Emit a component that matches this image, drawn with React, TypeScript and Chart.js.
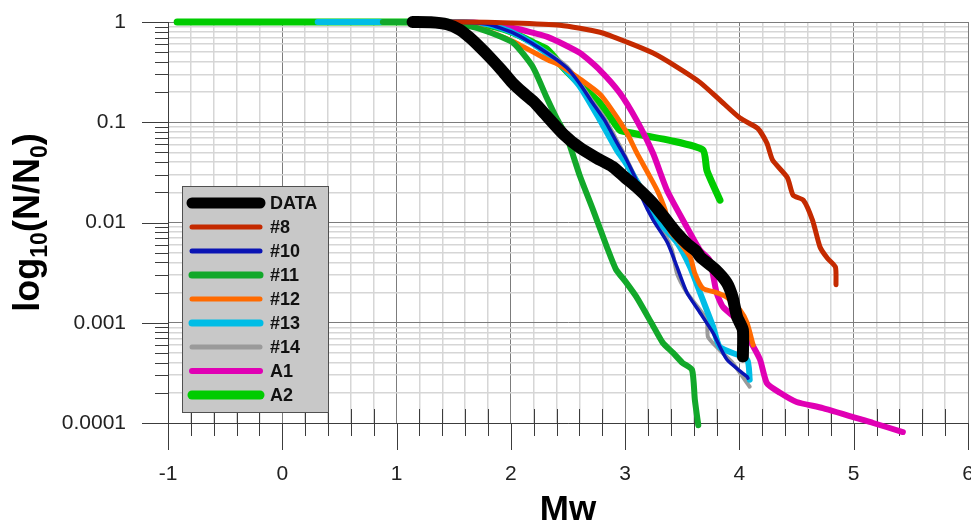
import React, { useEffect, useRef } from 'react';
import { Chart, registerables } from 'chart.js';

Chart.register(...registerables);

// ---------- data ----------
const seriesNames = ['DATA', '#8', '#10', '#11', '#12', '#13', '#14', 'A1', 'A2'];

const dataMw = [1.14, 1.3, 1.44, 1.55, 1.64, 1.73, 1.82, 1.92, 2.01, 2.1, 2.2, 2.3, 2.46, 2.6, 2.75, 2.89, 3.0, 3.1, 3.24, 3.35, 3.45, 3.55, 3.62, 3.66, 3.79, 3.89, 3.94, 3.98, 4.03, 4.03];
const dataN = [1, 0.995, 0.95, 0.84, 0.7, 0.56, 0.44, 0.33, 0.25, 0.2, 0.16, 0.12, 0.076, 0.056, 0.044, 0.036, 0.028, 0.0225, 0.0157, 0.011, 0.0079, 0.006, 0.0052, 0.0045, 0.0034, 0.0025, 0.0018, 0.00114, 0.00085, 0.00046];

const s8Mw = [1.15, 1.58, 2.0, 2.43, 2.78, 3.016, 3.244, 3.454, 3.655, 3.83, 4.005, 4.16, 4.24, 4.29, 4.42, 4.47, 4.56, 4.64, 4.705, 4.77, 4.84, 4.845];
const s8N = [1, 1, 0.98, 0.93, 0.79, 0.63, 0.49, 0.355, 0.25, 0.166, 0.11, 0.087, 0.062, 0.042, 0.028, 0.0187, 0.0167, 0.0105, 0.0057, 0.0044, 0.0036, 0.0024];

const s10Mw = [1.2, 1.6, 1.8, 2.02, 2.25, 2.49, 2.6, 2.7, 2.82, 2.93, 3.0, 3.1, 3.156, 3.244, 3.37, 3.454, 3.54, 3.655, 3.77, 3.89, 4.066, 4.075];
const s10N = [1, 0.99, 0.95, 0.78, 0.55, 0.35, 0.245, 0.165, 0.105, 0.062, 0.045, 0.026, 0.0168, 0.0106, 0.0063, 0.0036, 0.002, 0.00126, 0.00079, 0.00043, 0.00029, 0.00028];

const s11Mw = [0.88, 1.4, 1.6, 1.8, 2.02, 2.19, 2.31, 2.4, 2.49, 2.6, 2.72, 2.84, 2.92, 3.0, 3.1, 3.24, 3.33, 3.42, 3.5, 3.585, 3.61, 3.64];
const s11N = [1, 0.99, 0.93, 0.8, 0.62, 0.36, 0.18, 0.11, 0.071, 0.03, 0.0133, 0.0057, 0.0034, 0.0026, 0.0018, 0.00095, 0.00063, 0.0005, 0.0004, 0.00034, 0.00017, 0.000095];

const s12Mw = [1.2, 1.64, 2.02, 2.32, 2.43, 2.605, 2.78, 2.89, 3.016, 3.1, 3.2, 3.28, 3.35, 3.39, 3.48, 3.57, 3.61, 3.68, 3.8, 3.89, 4.005, 4.066, 4.12];
const s12N = [1, 0.93, 0.64, 0.42, 0.37, 0.27, 0.19, 0.13, 0.078, 0.05, 0.031, 0.021, 0.0133, 0.0084, 0.0063, 0.0045, 0.0031, 0.0022, 0.002, 0.0018, 0.00134, 0.001, 0.0006];

const s13Mw = [0.31, 1.2, 1.6, 1.8, 2.0, 2.2, 2.43, 2.6, 2.78, 2.93, 3.0, 3.1, 3.2, 3.306, 3.454, 3.568, 3.655, 3.77, 3.83, 4.066, 4.09];
const s13N = [1, 1, 0.99, 0.95, 0.8, 0.6, 0.38, 0.23, 0.105, 0.052, 0.04, 0.026, 0.016, 0.0099, 0.0063, 0.0036, 0.002, 0.00091, 0.00057, 0.00043, 0.00027];

const s14Mw = [1.0, 1.5, 1.8, 2.02, 2.25, 2.49, 2.6, 2.7, 2.82, 2.93, 3.0, 3.1, 3.22, 3.29, 3.41, 3.454, 3.54, 3.655, 3.716, 3.725, 3.83, 3.94, 4.09];
const s14N = [1, 1, 0.96, 0.78, 0.56, 0.36, 0.25, 0.17, 0.11, 0.065, 0.046, 0.027, 0.0168, 0.0106, 0.0053, 0.0031, 0.002, 0.00134, 0.00107, 0.00072, 0.00053, 0.0004, 0.00023];

const a1Mw = [1.2, 1.67, 2.02, 2.32, 2.605, 2.78, 2.955, 3.1, 3.244, 3.366, 3.54, 3.655, 3.74, 3.8, 3.856, 3.98, 4.09, 4.18, 4.24, 4.355, 4.5, 4.73, 5.17, 5.43];
const a1N = [1, 0.99, 0.87, 0.71, 0.49, 0.33, 0.195, 0.105, 0.049, 0.021, 0.009, 0.0053, 0.0042, 0.002, 0.00144, 0.00107, 0.00067, 0.00043, 0.00025, 0.0002, 0.000162, 0.000141, 0.0001, 0.0000813];

const a2Mw = [-0.92, 1.2, 1.6, 1.85, 2.02, 2.2, 2.32, 2.45, 2.63, 2.78, 2.93, 2.955, 3.156, 3.39, 3.68, 3.716, 3.83];
const a2N = [1, 1, 0.98, 0.9, 0.78, 0.62, 0.53, 0.36, 0.224, 0.155, 0.09, 0.083, 0.074, 0.066, 0.053, 0.033, 0.0167];

const seriesMw = [dataMw, s8Mw, s10Mw, s11Mw, s12Mw, s13Mw, s14Mw, a1Mw, a2Mw];
const seriesN = [dataN, s8N, s10N, s11N, s12N, s13N, s14N, a1N, a2N];

// axis ticks
const xMin = -1;
const xMax = 6;
const xMajorTicks = [-1, 0, 1, 2, 3, 4, 5, 6];
const xMinorPerUnit = 5;
const yMajorTicks = [1, 0.1, 0.01, 0.001, 0.0001];
const yTickLabels = ['1', '0.1', '0.01', '0.001', '0.0001'];

// ---------- styles ----------
const seriesColors = ['#000000', '#c42a00', '#0a14b4', '#12a82a', '#ff6a00', '#00bde6', '#9a9a9a', '#e000b4', '#00cc00'];
const seriesWidths = [12, 5, 3.5, 6, 5, 6, 4, 6, 7];
const legendWidths = [11, 5, 5, 7, 5, 7, 5, 6, 9];
const FONT = '"Liberation Sans", Arial, Helvetica, sans-serif';

function buildXTicks(): number[] {
  const out: number[] = [];
  for (let i = 0; i < xMajorTicks.length - 1; i++) {
    for (let k = 0; k < xMinorPerUnit; k++) out.push(xMajorTicks[i] + k / xMinorPerUnit);
  }
  out.push(xMajorTicks[xMajorTicks.length - 1]);
  return out;
}
function buildYTicks(): number[] {
  const out: number[] = [];
  const decs = [...yMajorTicks].sort((a, b) => a - b);
  for (let i = 0; i < decs.length - 1; i++) {
    for (let m = 1; m <= 9; m++) out.push(m * decs[i]);
  }
  out.push(decs[decs.length - 1]);
  return out;
}
const xTickValues = buildXTicks();
const yTickValues = buildYTicks();

const isIntTick = (v: number) => Math.abs(v - Math.round(v)) < 1e-6;
const isDecade = (v: number) => {
  const l = Math.log10(v);
  return Math.abs(l - Math.round(l)) < 1e-6;
};

const axesPlugin = {
  id: 'customAxes',
  beforeDatasetsDraw(chart: any) {
    const { ctx, chartArea, scales } = chart;
    const x = scales.x;
    const y = scales.y;
    ctx.save();
    ctx.strokeStyle = '#3c3c3c';
    ctx.lineWidth = 1;
    ctx.beginPath();
    const b = chartArea.bottom;
    xTickValues.forEach((v) => {
      const px = Math.round(x.getPixelForValue(v)) + 0.5;
      if (isIntTick(v)) {
        ctx.moveTo(px, b);
        ctx.lineTo(px, b + 27);
      } else {
        ctx.moveTo(px, b - 14);
        ctx.lineTo(px, b + 13);
      }
    });
    const l = chartArea.left;
    yTickValues.forEach((v) => {
      const py = Math.round(y.getPixelForValue(v)) + 0.5;
      if (isDecade(v)) {
        ctx.moveTo(l - 26, py);
        ctx.lineTo(l, py);
      } else {
        ctx.moveTo(l - 13, py);
        ctx.lineTo(l, py);
      }
    });
    ctx.stroke();
    ctx.restore();
  },
  afterDraw(chart: any) {
    const { ctx, chartArea } = chart;
    ctx.save();
    // x title
    ctx.fillStyle = '#000';
    ctx.font = `bold 35px ${FONT}`;
    ctx.textAlign = 'center';
    ctx.textBaseline = 'alphabetic';
    ctx.fillText('Mw', (chartArea.left + chartArea.right) / 2, 520);

    // y title with subscripts
    const parts = [
      { t: 'log', sub: false },
      { t: '10', sub: true },
      { t: '(N/N', sub: false },
      { t: '0', sub: true },
      { t: ')', sub: false },
    ];
    const mainFont = `bold 36px ${FONT}`;
    const subFont = `bold 23px ${FONT}`;
    let total = 0;
    const widths = parts.map((p) => {
      ctx.font = p.sub ? subFont : mainFont;
      const w = ctx.measureText(p.t).width;
      total += w;
      return w;
    });
    const cy = (chartArea.top + chartArea.bottom) / 2;
    ctx.translate(39, cy + total / 2);
    ctx.rotate(-Math.PI / 2);
    ctx.textAlign = 'left';
    let cx = 0;
    parts.forEach((p, i) => {
      ctx.font = p.sub ? subFont : mainFont;
      ctx.fillText(p.t, cx, p.sub ? 8 : 0);
      cx += widths[i];
    });
    ctx.restore();

    // legend box
    ctx.save();
    const bx = 182.5, by = 186.5, bw = 146, bh = 226;
    ctx.fillStyle = '#c8c8c8';
    ctx.strokeStyle = '#505050';
    ctx.lineWidth = 1;
    ctx.fillRect(bx, by, bw, bh);
    ctx.strokeRect(bx, by, bw, bh);
    ctx.lineCap = 'round';
    chart.data.datasets.forEach((ds: any, i: number) => {
      const yy = 203 + i * 24;
      ctx.strokeStyle = ds.borderColor;
      ctx.lineWidth = legendWidths[i];
      ctx.beginPath();
      ctx.moveTo(192, yy);
      ctx.lineTo(260, yy);
      ctx.stroke();
      ctx.fillStyle = '#111';
      ctx.font = `bold 18px ${FONT}`;
      ctx.textAlign = 'left';
      ctx.textBaseline = 'middle';
      ctx.fillText(ds.label, 270, yy + 1);
    });
    ctx.restore();
  },
};

export default function App() {
  const ref = useRef<HTMLCanvasElement | null>(null);
  useEffect(() => {
    const canvas = ref.current;
    if (!canvas) return;
    const datasets = seriesNames.map((name, i) => ({
      label: name,
      data: seriesMw[i].map((mx, j) => ({ x: mx, y: seriesN[i][j] })),
      borderColor: seriesColors[i],
      backgroundColor: seriesColors[i],
      borderWidth: seriesWidths[i],
      pointRadius: 0,
      pointHoverRadius: 0,
      tension: 0.2,
      fill: false,
      clip: false as any,
      borderCapStyle: 'round' as const,
      borderJoinStyle: 'round' as const,
    }));
    const chart = new Chart(canvas, {
      type: 'line',
      data: { datasets },
      options: {
        responsive: false,
        maintainAspectRatio: false,
        animation: false,
        events: [],
        layout: { padding: { top: 22, right: 3, left: 0, bottom: 0 } },
        plugins: { legend: { display: false }, tooltip: { enabled: false }, title: { display: false } },
        scales: {
          x: {
            type: 'linear',
            min: xMin,
            max: xMax,
            afterBuildTicks: (s: any) => {
              s.ticks = xTickValues.map((v) => ({ value: v }));
            },
            afterFit: (s: any) => {
              s.height = 98;
              s.paddingLeft = 0;
              s.paddingRight = 0;
            },
            grid: {
              drawTicks: false,
              color: (c: any) => (c.tick && isIntTick(c.tick.value) ? '#7c7c7c' : '#d6d6d6'),
              lineWidth: (c: any) => (c.tick && isIntTick(c.tick.value) ? 1 : 1.5),
            },
            border: { display: true, color: '#3c3c3c', width: 1 },
            ticks: {
              autoSkip: false,
              maxRotation: 0,
              minRotation: 0,
              padding: 39,
              color: '#222',
              font: { family: FONT, size: 21 },
              callback: (v: any) => (isIntTick(Number(v)) ? String(Math.round(Number(v))) : ''),
            },
          },
          y: {
            type: 'logarithmic',
            min: 0.0001,
            max: 1,
            afterBuildTicks: (s: any) => {
              s.ticks = yTickValues.map((v) => ({ value: v, major: isDecade(v) }));
            },
            afterFit: (s: any) => {
              s.width = 168;
              s.paddingTop = 0;
              s.paddingBottom = 0;
            },
            grid: {
              drawTicks: false,
              color: (c: any) => (c.tick && isDecade(c.tick.value) ? '#7c7c7c' : '#d6d6d6'),
              lineWidth: (c: any) => (c.tick && isDecade(c.tick.value) ? 1 : 1.5),
            },
            border: { display: true, color: '#3c3c3c', width: 1 },
            ticks: {
              autoSkip: false,
              padding: 42,
              color: '#222',
              font: { family: FONT, size: 21 },
              callback: (v: any) => {
                const n = Number(v);
                const idx = yMajorTicks.findIndex((m) => Math.abs(m - n) / m < 1e-6);
                return idx >= 0 ? yTickLabels[idx] : '';
              },
            },
          },
        },
      } as any,
      plugins: [axesPlugin],
    });
    return () => chart.destroy();
  }, []);
  return (
    <div style={{ position: 'absolute', left: 0, top: 0, width: 971, height: 521, background: '#fff' }}>
      <canvas ref={ref} width={971} height={521} style={{ display: 'block', width: 971, height: 521 }} />
    </div>
  );
}
